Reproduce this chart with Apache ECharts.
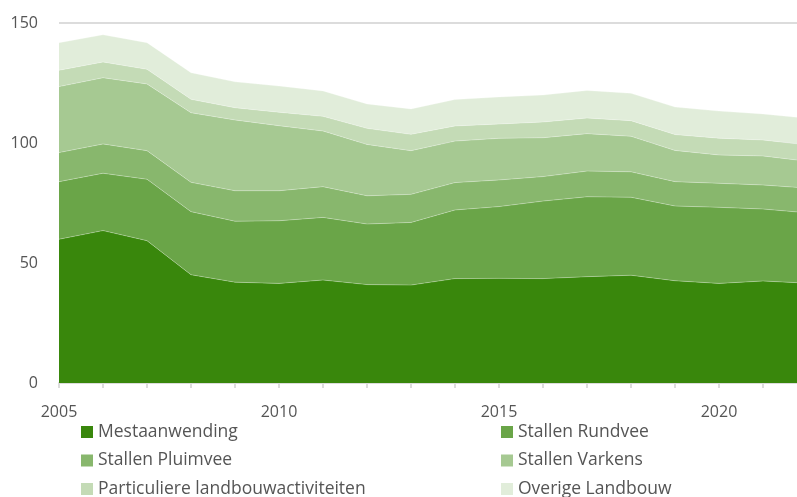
<!DOCTYPE html>
<html>
<head>
<meta charset="utf-8">
<script src="https://cdn.jsdelivr.net/npm/echarts@6/dist/echarts.min.js"></script>
<style>html,body{margin:0;padding:0;background:#fff;overflow:hidden;width:797px;height:497px}#c{width:812px;height:497px}</style>
</head>
<body>
<div id="c"></div>
<script>
const years = ['2005','2006','2007','2008','2009','2010','2011','2012','2013','2014','2015','2016','2017','2018','2019','2020','2021','2022'];
const mestaanwending = [59.9,63.5,59.3,45.1,42.0,41.5,42.9,41.0,40.8,43.5,43.6,43.5,44.3,44.9,42.6,41.5,42.5,41.6];
const stallenRundvee = [24.0,23.9,25.6,26.3,25.4,26.1,26.1,25.25,26.1,28.6,29.9,32.3,33.3,32.5,31.15,31.7,30.0,29.3];
const stallenPluimvee = [12.1,12.2,11.9,12.2,12.7,12.5,12.8,11.75,11.7,11.4,11.1,10.2,10.7,10.6,10.15,10.0,10.0,10.3];
const stallenVarkens = [27.5,27.6,27.8,29.0,29.5,27.1,23.2,21.4,18.2,17.3,17.35,16.2,15.6,14.8,13.0,11.8,12.1,11.2];
const particuliere = [6.8,6.55,6.1,5.6,5.1,5.6,6.1,6.7,6.8,6.3,5.95,6.55,6.5,6.5,6.6,7.0,6.65,6.8];
const overige = [11.5,11.35,11.1,11.1,10.8,10.95,10.6,10.15,10.6,11.0,11.3,11.25,11.5,11.4,11.5,11.3,10.85,11.1];
const seriesNames = ['Mestaanwending','Stallen Rundvee','Stallen Pluimvee','Stallen Varkens','Particuliere landbouwactiviteiten','Overige Landbouw'];
const yTicks = [0,50,100,150];

const colors = ['#39870c','#6aa548','#88b76d','#a6c992','#c4dbb6','#e1edda'];
const values = [mestaanwending,stallenRundvee,stallenPluimvee,stallenVarkens,particuliere,overige];
const FONT = '"Open Sans", sans-serif';
const legendPos = [[81,423],[501,423],[81,451.5],[501,451.5],[81,480],[501,480]];
const chart = echarts.init(document.getElementById('c'), null, {renderer:'canvas'});
chart.setOption({
  animation:false,
  color: colors,
  grid:{left:59, right:5, top:23, bottom:114, containLabel:false},
  xAxis:{
    type:'category', data:years, boundaryGap:false,
    axisLine:{show:true, lineStyle:{color:'#dcdcdc', width:2}},
    axisTick:{show:true, length:5, interval:0, lineStyle:{color:'#dcdcdc', width:2}},
    splitLine:{show:false},
    axisLabel:{margin:21, color:'#555', fontSize:16, fontFamily:FONT,
      interval:(idx, val) => Number(val) % 5 === 0}
  },
  yAxis:{
    type:'value', min:yTicks[0], max:yTicks[yTicks.length-1], interval:50,
    axisLine:{show:false}, axisTick:{show:false},
    splitLine:{show:true, lineStyle:{color:'#dcdcdc', width:2}},
    axisLabel:{margin:21, color:'#555', fontSize:16, fontFamily:FONT}
  },
  legend: seriesNames.map((name,i)=>({
    left:legendPos[i][0], top:legendPos[i][1], padding:0,
    itemWidth:12, itemHeight:12, itemGap:5, icon:'rect',
    data:[name],
    textStyle:{color:'#555', fontSize:17.5, fontFamily:FONT}
  })),
  series: seriesNames.map((name,i)=>({
    name, type:'line', stack:'total', symbol:'none',
    data: values[i],
    lineStyle:{width:0.6, color:'rgba(255,255,255,0.45)'},
    areaStyle:{color:colors[i], opacity:1},
    itemStyle:{color:colors[i]}
  }))
});
</script>
</body>
</html>
